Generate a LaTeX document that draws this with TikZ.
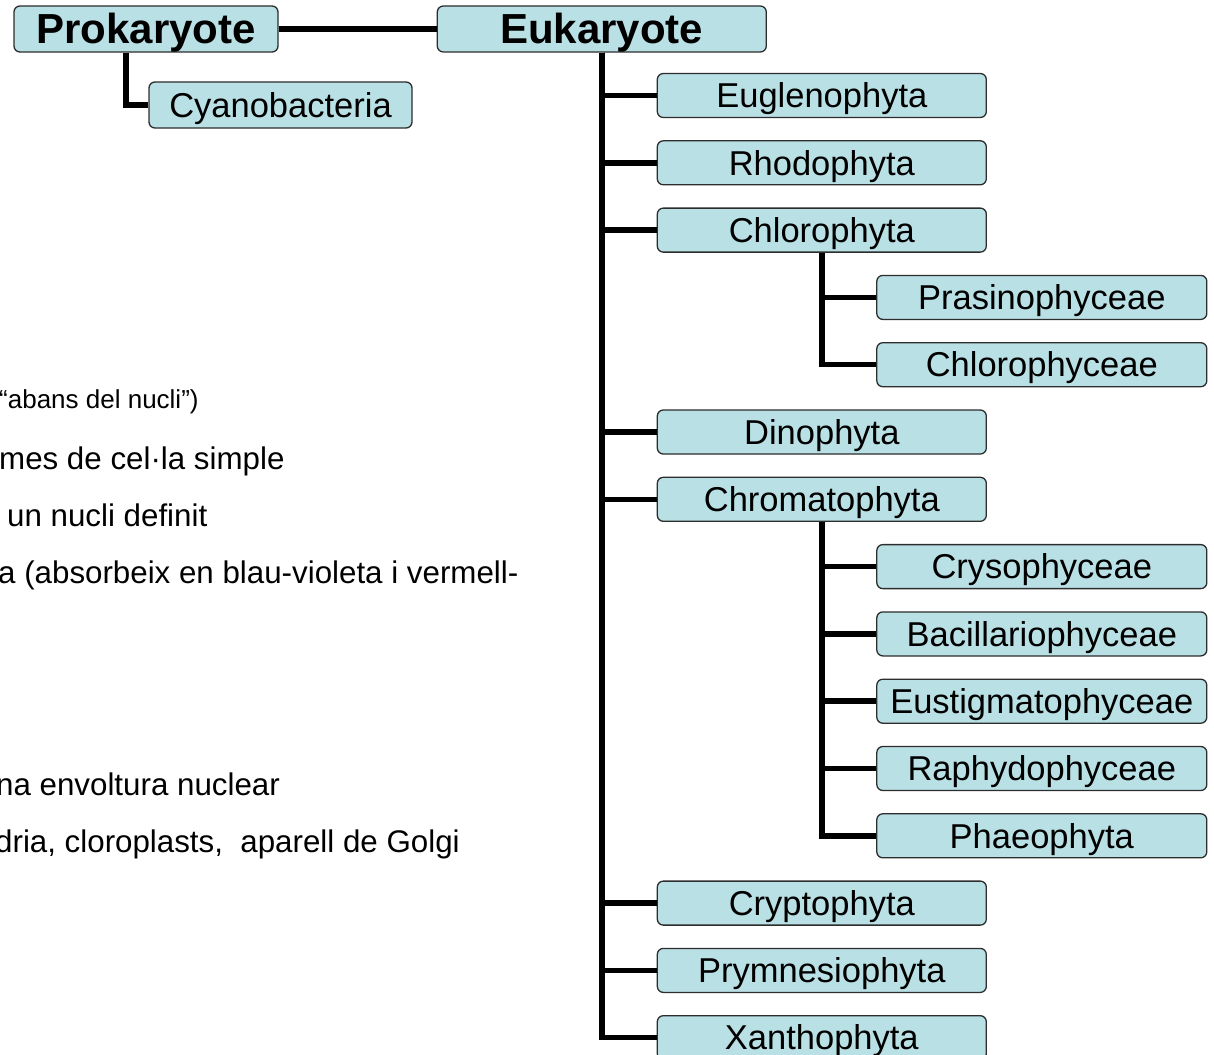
\documentclass[tikz,border=0pt]{standalone}
\usepackage{fontspec}
\setmainfont{Liberation Sans}
\usetikzlibrary{positioning}
\definecolor{boxfill}{RGB}{185, 224, 228}
\definecolor{boxline}{RGB}{45, 45, 45}
\tikzset{
taxonbox/.style={
  draw=boxline,
  line width=1.3pt,
  rounded corners=6pt,
  fill=boxfill,
  inner sep=0pt,
  minimum height=44pt,
  minimum width=329pt,
  font=\fontsize{34.5}{41}\selectfont,
  text height=32pt,
  text depth=7.5pt
},
kingdombox/.style={
  taxonbox,
  minimum height=46pt,
  font=\bfseries\fontsize{42}{50}\selectfont,
  text height=38pt,
  text depth=8pt
},
link/.style={
  draw=black,
  line width=5.5pt
},
notetext/.style={
  anchor=base west,
  inner sep=0pt,
  font=\fontsize{31.3}{37}\selectfont
}
}

\begin{document}
\begin{tikzpicture}[x=1pt, y=-1pt]
      \useasboundingbox (0,0) rectangle (1214,1054);

      % Kingdoms
      \node[kingdombox, minimum width=264pt] (prok) at (146,29) {Prokaryote};
      \node[kingdombox, right=158pt of prok] (euk) {Eukaryote};
      \node[taxonbox, minimum height=46pt, minimum width=263pt, below=28.7pt of prok, xshift=134.5pt] (cyano) {Cyanobacteria};

      % Phyla
      \node[taxonbox, below=20.2pt of euk, xshift=220pt] (eugl) {Euglenophyta};
      \node[taxonbox, below=22pt of eugl] (rhodo) {Rhodophyta};
      \node[taxonbox, below=22pt of rhodo] (chloro) {Chlorophyta};
      \node[taxonbox, minimum width=330pt, below=22pt of chloro, xshift=220pt] (prasino) {Prasinophyceae};
      \node[taxonbox, minimum width=330pt, below=22pt of prasino] (chlorocy) {Chlorophyceae};
      \node[taxonbox, below=22pt of chlorocy, xshift=-220pt] (dino) {Dinophyta};
      \node[taxonbox, below=22pt of dino] (chromato) {Chromatophyta};
      \node[taxonbox, minimum width=330pt, below=22pt of chromato, xshift=220pt] (cryso) {Crysophyceae};
      \node[taxonbox, minimum width=330pt, below=22pt of cryso] (bacil) {Bacillariophyceae};
      \node[taxonbox, minimum width=330pt, below=22pt of bacil] (eustig) {Eustigmatophyceae};
      \node[taxonbox, minimum width=330pt, below=22pt of eustig] (raphy) {Raphydophyceae};
      \node[taxonbox, minimum width=330pt, below=22pt of raphy] (phaeo) {Phaeophyta};
      \node[taxonbox, below=22pt of phaeo, xshift=-220pt] (crypto) {Cryptophyta};
      \node[taxonbox, below=22pt of crypto] (prymn) {Prymnesiophyta};
      \node[taxonbox, below=22pt of prymn] (xantho) {Xanthophyta};

      % Notes on the left (cut at the edge)
      \node[notetext, font=\fontsize{26}{31}\selectfont] (note1) at (-1,408) {“abans del nucli”)};
      \node[notetext] (note2) at (-1,469) {mes de cel·la simple};
      \node[notetext] (note3) at (7,526) {un nucli definit};
      \node[notetext] (note4) at (-2,583) {a (absorbeix en blau-violeta i vermell-};
      \node[notetext] (note5) at (-4,795) {na envoltura nuclear};
      \node[notetext] (note6) at (-5,852) {dria, cloroplasts,\ \ aparell de Golgi};

      % Kingdom links
      \draw[link] (prok) -- (euk);
      \draw[link] ([xshift=-20pt]prok.south) |- (cyano.west);

      % Eukaryote to phyla
      \draw[link] (euk.south) |- (eugl.west);
      \draw[link] (euk.south) |- (rhodo.west);
      \draw[link] (euk.south) |- (chloro.west);
      \draw[link] (euk.south) |- (dino.west);
      \draw[link] (euk.south) |- (chromato.west);
      \draw[link] (euk.south) |- (crypto.west);
      \draw[link] (euk.south) |- (prymn.west);
      \draw[link] (euk.south) |- (xantho.west);

      % Classes
      \draw[link] (chloro.south) |- (prasino.west);
      \draw[link] (chloro.south) |- (chlorocy.west);
      \draw[link] (chromato.south) |- (cryso.west);
      \draw[link] (chromato.south) |- (bacil.west);
      \draw[link] (chromato.south) |- (eustig.west);
      \draw[link] (chromato.south) |- (raphy.west);
      \draw[link] (chromato.south) |- (phaeo.west);
    \end{tikzpicture}
\end{document}
